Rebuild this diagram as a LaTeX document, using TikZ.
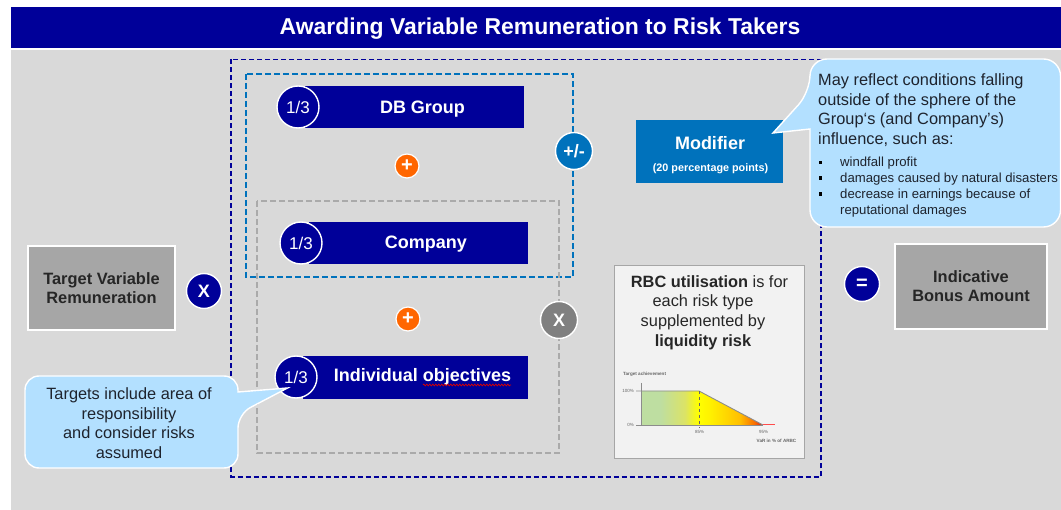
\documentclass[tikz,border=0pt]{standalone}
\usepackage{fontspec}
\setmainfont{Liberation Sans}
\usetikzlibrary{decorations.pathmorphing}
\definecolor{navy}{RGB}{0,0,153}
\definecolor{bgray}{RGB}{217,217,217}
\definecolor{midblue}{RGB}{0,114,188}
\definecolor{callfill}{RGB}{179,224,255}
\definecolor{boxgray}{RGB}{166,166,166}
\definecolor{dashgray}{RGB}{170,170,170}
\definecolor{plusor}{RGB}{255,102,0}
\definecolor{txt}{RGB}{30,35,45}
\pgfdeclarehorizontalshading{riskshade}{100bp}{
 rgb(0bp)=(0.745,0.87,0.63);
 rgb(33bp)=(0.745,0.87,0.63);
 rgb(43bp)=(0.86,0.89,0.40);
 rgb(48.5bp)=(1,1,0);
 rgb(53bp)=(1,0.95,0);
 rgb(65.5bp)=(1,0.75,0);
 rgb(71.5bp)=(0.98,0.43,0);
 rgb(75bp)=(0.88,0.08,0.08);
 rgb(100bp)=(0.88,0.08,0.08)}
\tikzset{
 x=1pt,y=-1pt,
 barbox/.style={fill=navy,draw=none,inner sep=0pt,minimum height=42pt},
 bartext/.style={inner sep=0pt,text=white,font=\fontsize{18}{20}\selectfont\bfseries},
 frac/.style={circle,fill=navy,draw=white,line width=1.4pt,minimum size=42pt,inner sep=0pt,text=white,font=\fontsize{17}{20}\selectfont},
 plusdot/.style={circle,fill=plusor,draw=white,line width=1.2pt,minimum size=24pt,inner sep=0pt,text=white,font=\fontsize{20}{20}\selectfont\bfseries},
 opdot/.style={circle,draw=white,line width=1.4pt,minimum size=37pt,inner sep=0pt,text=white,font=\fontsize{18}{20}\selectfont\bfseries},
 graybox/.style={fill=boxgray,draw=white,line width=1.2pt,inner sep=0pt,align=center,text=black!85,font=\fontsize{16.4}{19}\selectfont\bfseries},
 callout/.style={fill=callfill,draw=white,line width=1.4pt},
 calltext/.style={inner sep=0pt,text=txt,font=\fontsize{16.35}{19.6}\selectfont},
 bullettext/.style={inner sep=0pt,anchor=base west,text=txt,font=\fontsize{13.15}{14}\selectfont},
 ticklabel/.style={inner sep=0pt,text=black!60,font=\fontsize{4.5}{5}\selectfont},
}
\begin{document}
\begin{tikzpicture}
\useasboundingbox (0,0) rectangle (1061,510);
\fill[white] (0,0) rectangle (1061,510);
\fill[bgray] (11,50) rectangle (1061,510);
\node[fill=navy,minimum width=1050pt,minimum height=41pt,inner sep=0pt,anchor=north west] (title) at (11,7) {};
\node[text=white,inner sep=0pt,font=\fontsize{22.95}{26}\selectfont\bfseries] (titlet) at (540,28.5) {Awarding Variable Remuneration to Risk Takers};
% frames
\draw[navy,line width=1.6pt,dash pattern=on 5pt off 3pt] (231,59.5) rectangle (821,477);
\draw[midblue,line width=1.5pt,dash pattern=on 6pt off 3pt] (246,74) rectangle (573,277);
\draw[dashgray,line width=1.5pt,dash pattern=on 6pt off 3pt] (257,201) rectangle (559,453);
% bars
\node[barbox,minimum width=219pt,anchor=north west] (dbbar) at (305,86) {};
\node[bartext] (dbt) at (422.5,109.5) {DB Group};
\node[frac] (f1) at (298,107) {1/3};
\node[barbox,minimum width=219pt,anchor=north west] (cobar) at (308.5,222) {};
\node[bartext] (cot) at (426,244.5) {Company};
\node[frac] (f2) at (301,243) {1/3};
\node[barbox,minimum width=225pt,minimum height=43pt,anchor=north west] (inbar) at (302.5,355.5) {};
\node[bartext] (int) at (422.5,377) {Individual objectives};
\draw[red!85!black,line width=.7pt,decorate,decoration={zigzag,segment length=3pt,amplitude=.9pt}] (423,385) -- (511,385);
\node[frac] (f3) at (296,377) {1/3};
\node[plusdot] (p1) at (407,166) {+};
\node[plusdot] (p2) at (408,319) {+};
\node[opdot,fill=midblue] (pm) at (574,151) {+/-};
\node[opdot,fill=black!50] (xx) at (559,320) {X};
% left / right
\node[graybox,minimum width=147pt,minimum height=84pt] (tvr) at (101.5,288) {Target Variable\\Remuneration};
\node[opdot,fill=navy,minimum size=35pt] (x1) at (204,291) {X};
\node[opdot,fill=navy,minimum size=35pt,font=\fontsize{20}{20}\selectfont\bfseries] (eq) at (862,284) {=};
\node[graybox,minimum width=152pt,minimum height=85pt] (iba) at (971,286.5) {Indicative\\Bonus Amount};
% modifier
\node[fill=midblue,minimum width=147pt,minimum height=63pt,inner sep=0pt] (mod) at (709,151.5) {};
\node[bartext] (modt) at (710,143) {Modifier};
\node[text=white,inner sep=0pt,font=\fontsize{10.8}{12}\selectfont\bfseries] (mods) at (710.5,169) {(20 percentage points)};
% right callout
\draw[callout,rounded corners=17pt] (810,129) -- (810,227) -- (1060.5,227) -- (1060.5,59) -- (810,59) -- (810,92) [sharp corners] -- (773,133) -- cycle;
\node[calltext,align=left,anchor=north west] (c1) at (818,73.5) {May reflect conditions falling\\outside of the sphere of the\\Group‘s (and Company’s)\\influence, such as:};
\foreach \yy/\tx [count=\i] in {167/windfall profit,182.7/damages caused by natural disasters,199/decrease in earnings because of,215/reputational damages}{
 \node[bullettext] (b\i) at (840,\yy) {\tx};
}
\fill[black] (818.5,161) rectangle (822,164.5);
\fill[black] (818.5,176.5) rectangle (822,180);
\fill[black] (818.5,192.5) rectangle (822,196);
% left callout
\draw[callout,rounded corners=14pt] (238,392) -- (238,376) -- (25,376) -- (25,468) -- (238,468) -- (238,414) [sharp corners] -- (287.5,388) -- cycle;
\node[calltext,align=center] (c2) at (129,423) {Targets include area of\\responsibility\\and consider risks\\assumed};
% RBC box
\node[fill=black!5,draw=boxgray,line width=1.3pt,minimum width=190.5pt,minimum height=193pt,inner sep=0pt,anchor=north west] (rbc) at (613.5,265) {};
\node[calltext,align=center,text=black!85] (rbct) at (709.5,312.5) {\textbf{RBC utilisation} is for\\each risk type\hspace*{13pt}\mbox{}\\supplemented by\hspace*{13pt}\mbox{}\\\textbf{liquidity risk}\hspace*{13pt}\mbox{}};
% chart
\begin{scope}
\clip (641,391) -- (699,391) -- (763,425) -- (641,425) -- cycle;
\shade[shading=riskshade] (641,391) rectangle (763,425);
\end{scope}
\draw[black!45,line width=.9pt] (641,383) -- (641,425);
\draw[black!45,line width=.9pt] (636,391) -- (699,391) -- (763,425);
\draw[black!45,line width=.9pt] (636,425) -- (763,425);
\draw[red!70,line width=1pt] (763,425) -- (775,425);
\draw[black!60,line width=.4pt,dashed] (699,391) -- (699,428);
\node[ticklabel,anchor=west,font=\fontsize{4.6}{5}\selectfont\bfseries] (ta) at (623,374) {Target achievement};
\node[ticklabel,anchor=east] (t100) at (634,391) {100\%};
\node[ticklabel,anchor=east] (t0) at (634,425) {0\%};
\node[ticklabel] (t85) at (699.5,432) {85\%};
\node[ticklabel] (t95) at (763.5,432) {95\%};
\node[ticklabel,font=\fontsize{4.6}{5}\selectfont\bfseries] (tv) at (776.5,441) {VaR in \% of ARBC};
\end{tikzpicture}
\end{document}
